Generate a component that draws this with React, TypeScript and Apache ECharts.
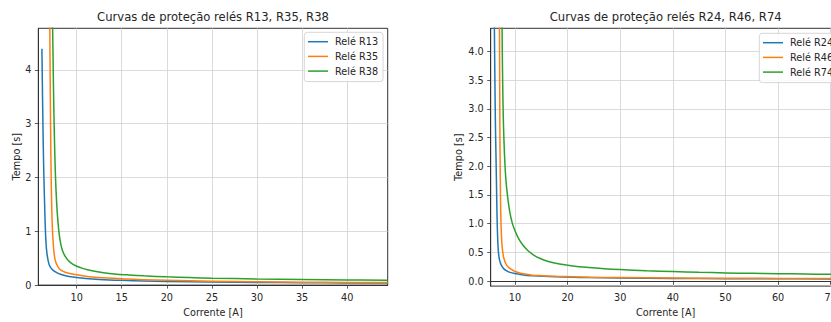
import React, { useEffect, useRef } from "react";
import * as echarts from "echarts";

// ---- Data ----
const leftTitle = "Curvas de proteção relés R13, R35, R38";
const rightTitle = "Curvas de proteção relés R24, R46, R74";
const xName = "Corrente [A]";
const yName = "Tempo [s]";

const leftXTicks = [10, 15, 20, 25, 30, 35, 40];
const leftYTicks = [0, 1, 2, 3, 4];
const rightXTicks = [10, 20, 30, 40, 50, 60, 70];
const rightYTicks = [0, 0.5, 1, 1.5, 2, 2.5, 3, 3.5, 4];

const r13: [number, number][] = [
  [6.15, 4.39], [6.22, 3.5], [6.3, 2.6], [6.38, 1.95], [6.45, 1.5], [6.52, 1.1],
  [6.6, 0.8], [6.7, 0.6], [6.85, 0.45], [7.0, 0.36], [7.3, 0.29], [7.7, 0.24],
  [8.2, 0.2], [9, 0.165], [10, 0.14], [11, 0.122], [12.5, 0.105], [15, 0.088],
  [17.5, 0.077], [20, 0.069], [25, 0.058], [30, 0.05], [35, 0.045], [40, 0.041], [44.5, 0.038],
];
const r35: [number, number][] = [
  [7.02, 4.9], [7.07, 3.8], [7.12, 2.8], [7.17, 2.1], [7.22, 1.6], [7.28, 1.2],
  [7.36, 0.9], [7.48, 0.62], [7.62, 0.47], [7.8, 0.38], [8.1, 0.3], [8.5, 0.256],
  [9, 0.225], [9.8, 0.195], [11, 0.165], [12, 0.148], [13.5, 0.13], [15.7, 0.113],
  [17.5, 0.1], [20, 0.088], [25, 0.072], [30, 0.062], [35, 0.055], [40, 0.05], [44.5, 0.047],
];
const r38: [number, number][] = [
  [7.32, 5.0], [7.38, 4.3], [7.45, 3.5], [7.53, 2.8], [7.62, 2.2], [7.72, 1.75],
  [7.85, 1.35], [8.0, 1.05], [8.15, 0.85], [8.3, 0.72], [8.5, 0.61], [8.75, 0.53],
  [9.05, 0.46], [9.4, 0.41], [9.9, 0.36], [10.5, 0.32], [11.2, 0.285], [12, 0.256],
  [13, 0.23], [14.2, 0.208], [15.7, 0.19], [17.5, 0.172], [20, 0.153], [22.5, 0.14],
  [25, 0.129], [30, 0.114], [35, 0.103], [40, 0.095], [44.5, 0.089],
];

const r24: [number, number][] = [
  [6.05, 5.0], [6.12, 4.2], [6.2, 3.5], [6.28, 2.85], [6.38, 2.3], [6.48, 1.8],
  [6.56, 1.35], [6.64, 1.0], [6.72, 0.76], [6.83, 0.55], [6.98, 0.42], [7.2, 0.33],
  [7.47, 0.27], [7.9, 0.215], [8.5, 0.178], [9.05, 0.154], [10, 0.133], [11.6, 0.11],
  [13.5, 0.095], [15.5, 0.085], [17.9, 0.077], [21, 0.069], [24, 0.063], [30, 0.056],
  [40, 0.049], [50, 0.045], [60, 0.042], [71.9, 0.04],
];
const r46: [number, number][] = [
  [7.05, 5.0], [7.08, 4.2], [7.11, 3.4], [7.15, 2.6], [7.2, 2.0], [7.26, 1.5],
  [7.34, 1.05], [7.44, 0.8], [7.56, 0.62], [7.7, 0.5], [7.9, 0.4], [8.3, 0.3],
  [8.8, 0.24], [9.7, 0.185], [10.5, 0.155], [11.6, 0.128], [13, 0.11], [15, 0.097],
  [17.9, 0.086], [21, 0.077], [24.2, 0.07], [30, 0.063], [40, 0.056], [50, 0.052],
  [60, 0.049], [71.9, 0.046],
];
const r74: [number, number][] = [
  [7.5, 5.0], [7.58, 4.2], [7.67, 3.5], [7.78, 2.9], [7.92, 2.45], [8.1, 2.05],
  [8.3, 1.75], [8.6, 1.48], [9.0, 1.22], [9.5, 1.01], [10.0, 0.88], [10.6, 0.76],
  [11.5, 0.63], [12.5, 0.53], [13.5, 0.46], [14.7, 0.4], [16.5, 0.34], [18.5, 0.3],
  [21, 0.265], [24, 0.238], [27, 0.218], [30, 0.203], [35, 0.183], [40, 0.168],
  [45, 0.155], [50, 0.145], [55, 0.137], [60, 0.131], [65, 0.125], [71.9, 0.119],
];

const leftSeries = [
  { name: "Relé R13", data: r13, color: "#1f77b4" },
  { name: "Relé R35", data: r35, color: "#ff7f0e" },
  { name: "Relé R38", data: r38, color: "#2ca02c" },
];
const rightSeries = [
  { name: "Relé R24", data: r24, color: "#1f77b4" },
  { name: "Relé R46", data: r46, color: "#ff7f0e" },
  { name: "Relé R74", data: r74, color: "#2ca02c" },
];

const FONT = "DejaVu Sans";
const TXT = "#262626";
const SPINE = "#333333";
const GRIDC = "#d2d2d2";

function xAxisCfg(grid: number, min: number, max: number, step: number, ticks: number[], gap: number, margin: number) {
  return {
    type: "value",
    gridIndex: grid,
    min,
    max,
    minInterval: step,
    maxInterval: step,
    axisLine: { show: true, lineStyle: { color: SPINE, width: 1 } },
    axisTick: { show: true, length: 3.5, customValues: ticks, lineStyle: { color: SPINE, width: 0.8 } },
    axisLabel: { customValues: ticks, margin, fontSize: 9.7, fontFamily: FONT, color: TXT },
    splitLine: { show: true, lineStyle: { color: GRIDC, width: 0.8 } },
    name: xName,
    nameLocation: "middle",
    nameGap: gap,
    nameTextStyle: { fontSize: 9.7, fontFamily: FONT, color: TXT },
  };
}

function yAxisCfg(grid: number, min: number, max: number, step: number, ticks: number[], gap: number, fmt: (v: number) => string) {
  return {
    type: "value",
    gridIndex: grid,
    min,
    max,
    minInterval: step,
    maxInterval: step,
    axisLine: { show: true, lineStyle: { color: SPINE, width: 1 } },
    axisTick: { show: true, length: 3.5, customValues: ticks, lineStyle: { color: SPINE, width: 0.8 } },
    axisLabel: { customValues: ticks, margin: 7, fontSize: 9.7, fontFamily: FONT, color: TXT, formatter: fmt },
    splitLine: { show: true, lineStyle: { color: GRIDC, width: 0.8 } },
    name: yName,
    nameLocation: "middle",
    nameGap: gap,
    nameTextStyle: { fontSize: 9.7, fontFamily: FONT, color: TXT },
  };
}

function legendCfg(left: number, top: number, names: string[]) {
  return {
    orient: "vertical",
    left,
    top,
    data: names,
    icon: "path://M0,0H20V1.5H0Z",
    itemWidth: 20,
    itemHeight: 10,
    itemGap: 4.7,
    padding: [4.4, 5, 5.5, 3.7],
    backgroundColor: "rgba(255,255,255,0.85)",
    borderColor: "#d6d6d6",
    borderWidth: 1,
    borderRadius: 3,
    textStyle: { fontSize: 9.7, fontFamily: FONT, color: TXT, padding: [0, 0, 0, 2] },
  };
}

export default function App() {
  const ref = useRef<HTMLDivElement>(null);
  useEffect(() => {
    if (!ref.current) return;
    const chart = echarts.init(ref.current, undefined, { renderer: "svg" });
    const mk = (s: { name: string; data: [number, number][]; color: string }, idx: number) => ({
      type: "line",
      name: s.name,
      xAxisIndex: idx,
      yAxisIndex: idx,
      data: s.data,
      symbol: "none",
      smooth: 0.4,
      clip: true,
      color: s.color,
      lineStyle: { color: s.color, width: 1.5 },
    });
    chart.setOption({
      animation: false,
      backgroundColor: "#ffffff",
      grid: [
        { left: 38.3, top: 28.3, width: 349.4, height: 260.7, show: true, borderColor: SPINE, borderWidth: 1, backgroundColor: "transparent" },
        { left: 490.7, top: 28.3, width: 350, height: 262.4, show: true, borderColor: SPINE, borderWidth: 1, backgroundColor: "transparent" },
      ],
      xAxis: [
        xAxisCfg(0, 5.75, 44.5, 5, leftXTicks, 19, 7),
        xAxisCfg(1, 5.4, 71.9, 10, rightXTicks, 20, 6),
      ],
      yAxis: [
        yAxisCfg(0, 0, 4.77, 1, leftYTicks, 17, (v: number) => String(v)),
        yAxisCfg(1, -0.085, 4.4, 0.5, rightYTicks, 27, (v: number) => v.toFixed(1)),
      ],
      legend: [
        legendCfg(304.3, 32.3, leftSeries.map((s) => s.name)),
        legendCfg(759.3, 33.3, rightSeries.map((s) => s.name)),
      ],
      series: [...leftSeries.map((s) => mk(s, 0)), ...rightSeries.map((s) => mk(s, 1))],
      graphic: [
        {
          type: "text",
          x: 213,
          y: 17,
          style: { text: leftTitle, fontSize: 11.6, fontFamily: FONT, fill: TXT, textAlign: "center", textVerticalAlign: "middle" },
        },
        {
          type: "text",
          x: 665.7,
          y: 17,
          style: { text: rightTitle, fontSize: 11.6, fontFamily: FONT, fill: TXT, textAlign: "center", textVerticalAlign: "middle" },
        },
      ],
    });
    return () => chart.dispose();
  }, []);
  return (
    <div style={{ position: "absolute", left: 0, top: 0, width: 831, height: 322, overflow: "hidden", background: "#fff" }}>
      <div ref={ref} style={{ width: 860, height: 322 }} />
    </div>
  );
}
